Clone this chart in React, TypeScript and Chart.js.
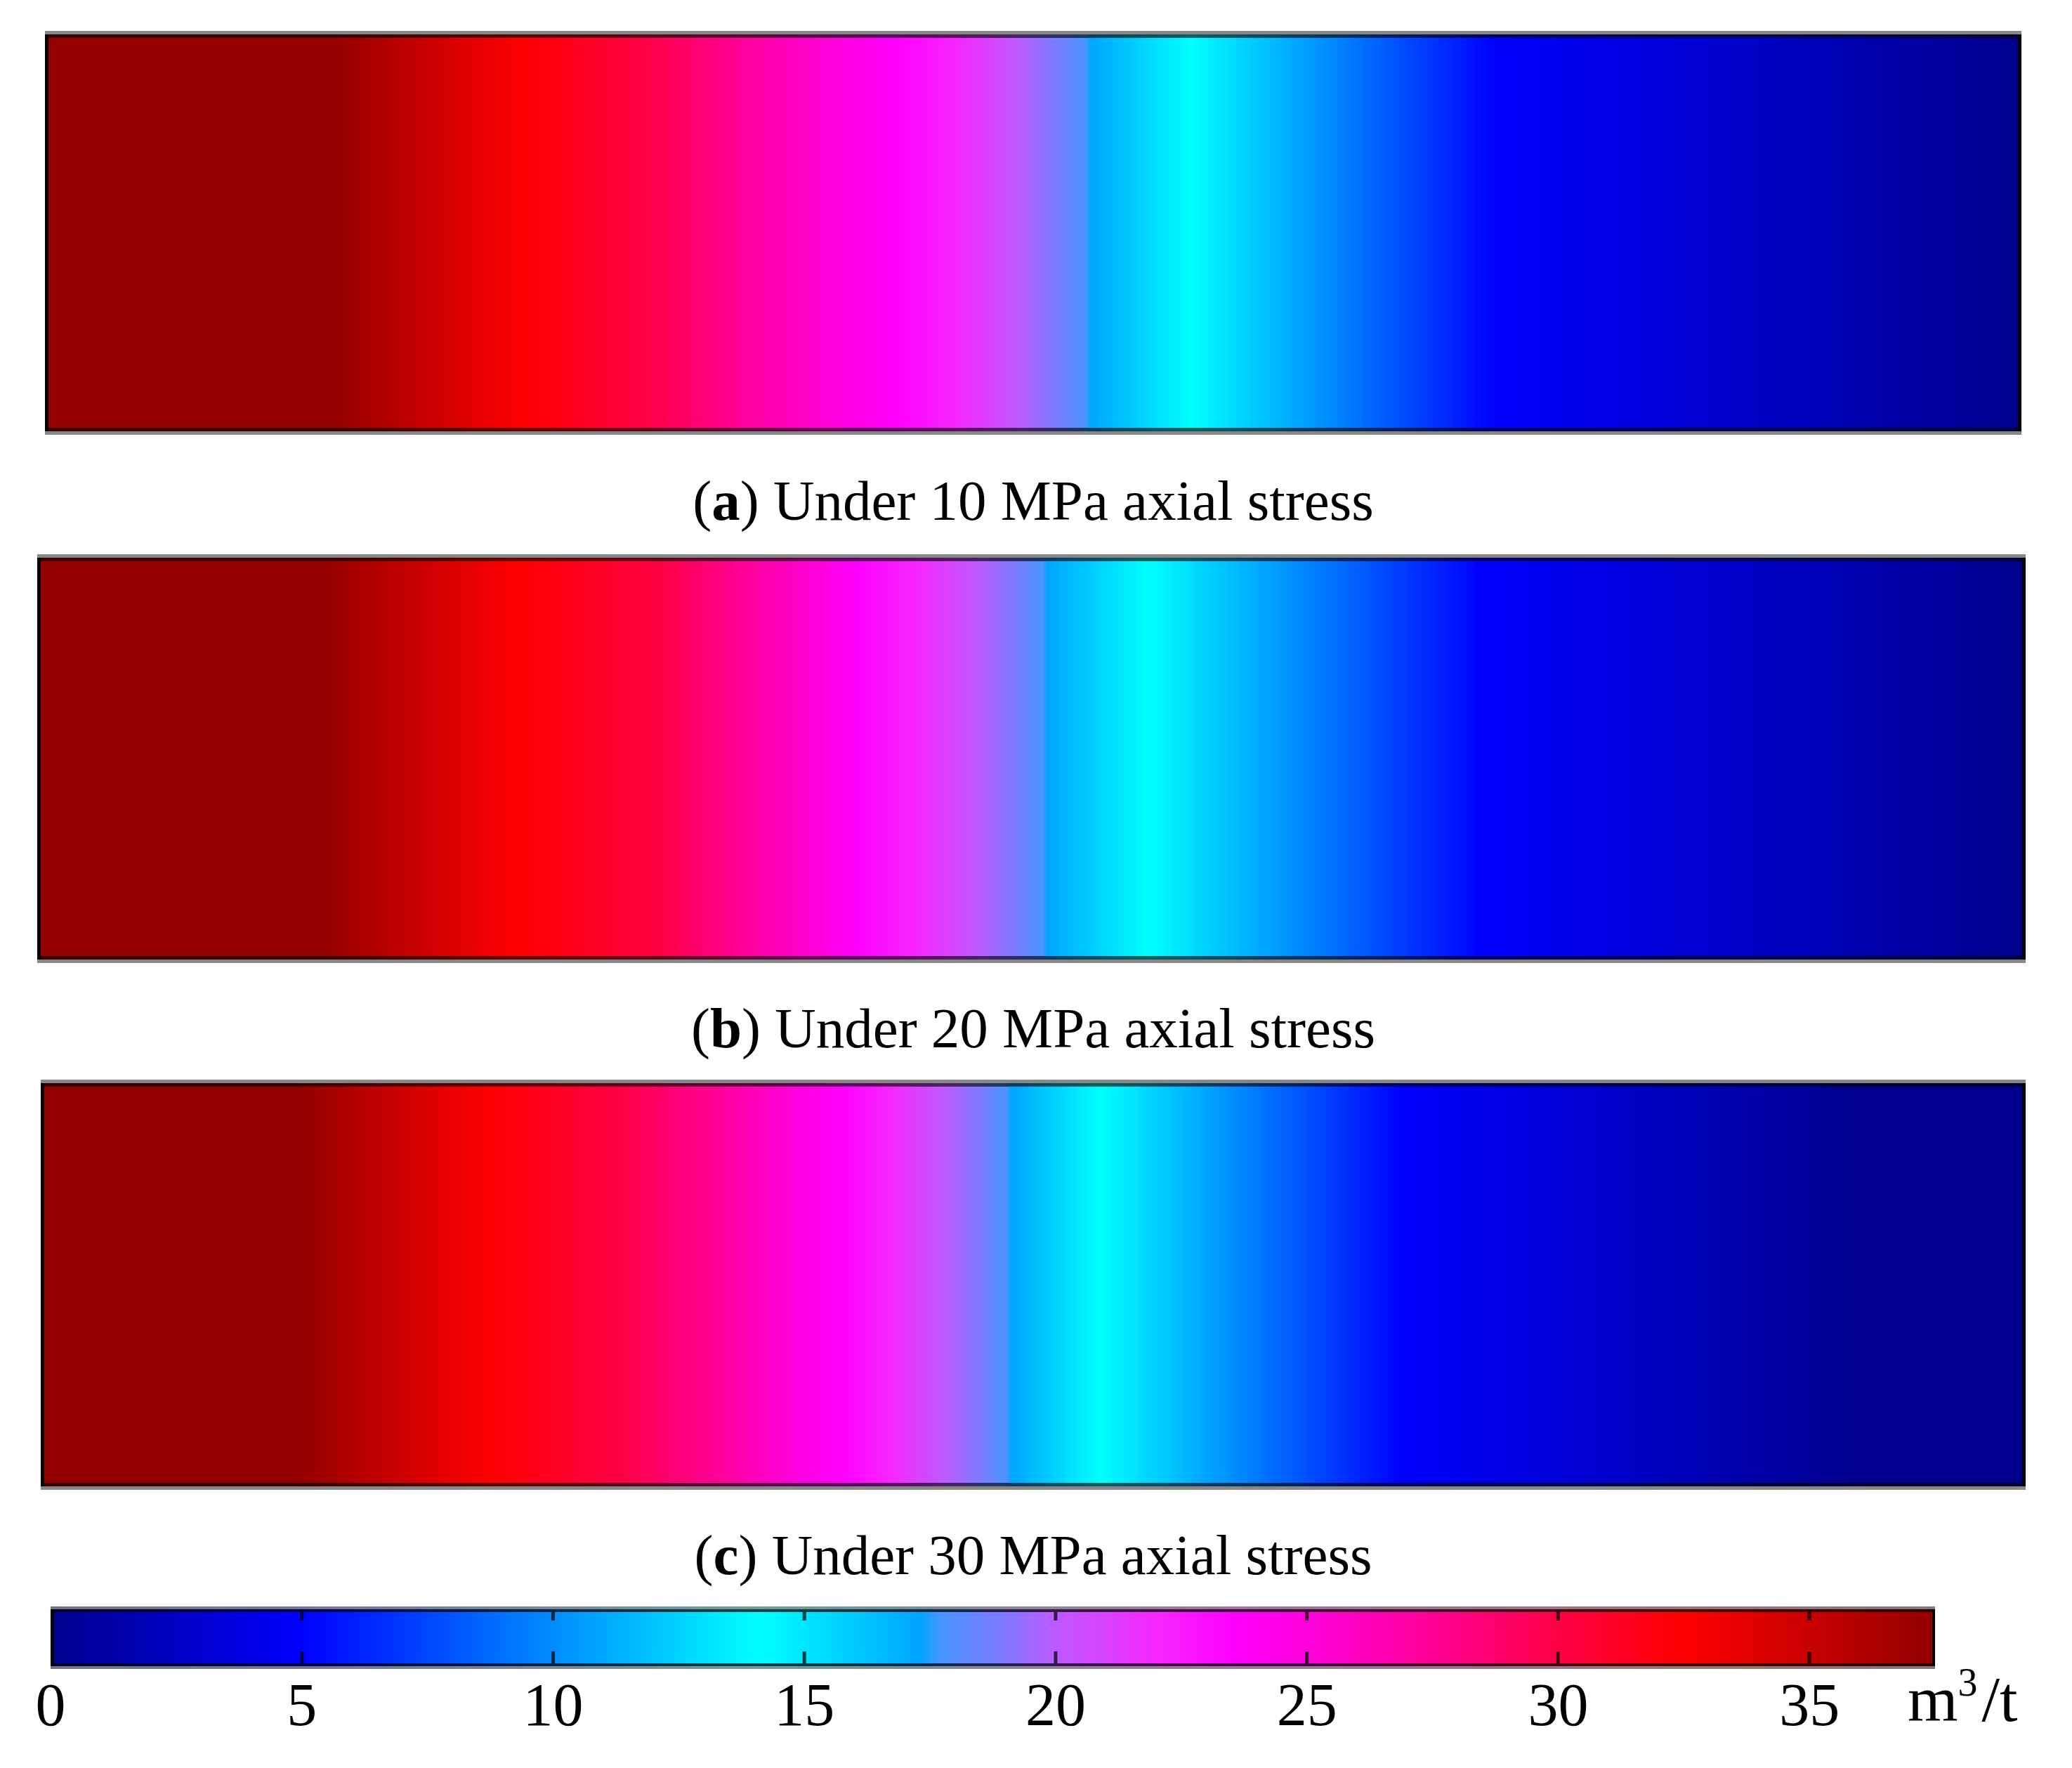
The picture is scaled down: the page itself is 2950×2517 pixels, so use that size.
import React, { useEffect, useRef } from 'react';
import { Chart, registerables } from 'chart.js';

Chart.register(...registerables);

const FONT = '"Liberation Serif", "Times New Roman", serif';

// Colour scale of the legend: gas content (m3/t) and its colour
const scaleValues = [0, 5, 14.1, 17.3, 17.7, 19, 20, 22, 23.5, 25, 27.5, 30, 32.5, 37.5];
const scaleColors = [
  '#00008c', '#0000ff', '#00ffff', '#00a5ff', '#4696ff', '#8278ff', '#be5aff',
  '#f528ff', '#ff00ff', '#ff00dc', '#ff0096', '#ff0046', '#ff0000', '#920000',
];
const tickValues = [0, 5, 10, 15, 20, 25, 30, 35];

// Gas content along the sample, position in % of the length
const positionsA = [0, 14.4, 24.1, 30.5, 35, 39.8, 43.2, 46.2, 49.2, 50.9, 52.7, 52.9, 58, 73.3, 100];
const positionsB = [0, 14.1, 24, 31.4, 35.3, 39.3, 41.3, 44.3, 47.3, 49, 50.6, 50.8, 55.8, 72.6, 100];
const positionsC = [0, 12.9, 22.6, 29.2, 33.9, 37.9, 40.5, 42.9, 45.5, 47.2, 48.7, 48.9, 53.4, 68.5, 92, 100];

const contentA = [37.5, 37.5, 32.5, 30, 27.5, 25, 23.5, 22, 20, 19, 17.7, 17.3, 14.1, 5, 0];
const contentB = [37.5, 37.5, 32.5, 30, 27.5, 25, 23.5, 22, 20, 19, 17.7, 17.3, 14.1, 5, 0];
const contentC = [37.5, 37.5, 32.5, 30, 27.5, 25, 23.5, 22, 20, 19, 17.7, 17.3, 14.1, 5, 0, 0];

const captionLetters = ['a', 'b', 'c'];
const captionTexts = ['Under 10 MPa axial stress', 'Under 20 MPa axial stress', 'Under 30 MPa axial stress'];

// Page layout of the three strips and captions
const stripBoxes = [
  { left: 64, top: 44, width: 2814, height: 575 },
  { left: 53, top: 789, width: 2831, height: 582 },
  { left: 58, top: 1537, width: 2826, height: 584 },
];
const captionCentres = [713, 1464, 2214];

const colorFor = (value: number) => scaleColors[scaleValues.indexOf(value)];

const makeGradient = (chart: Chart, positions: number[], colors: string[]) => {
  const x = chart.scales.x;
  const g = chart.ctx.createLinearGradient(x.getPixelForValue(positions[0]), 0, x.getPixelForValue(positions[positions.length - 1]), 0);
  const span = positions[positions.length - 1] - positions[0];
  positions.forEach((p, i) => g.addColorStop((p - positions[0]) / span, colors[i]));
  return g;
};

// Frame of the plot: grey outer line and a darkened one inside
const stripFrame = {
  id: 'stripFrame',
  afterDatasetsDraw(chart: Chart) {
    const { ctx, chartArea: a } = chart;
    ctx.save();
    ctx.fillStyle = 'rgba(0,0,0,0.62)';
    ctx.fillRect(a.left, a.top + 5, a.width, 5);
    ctx.fillRect(a.left, a.bottom - 10, a.width, 5);
    ctx.fillStyle = '#000';
    ctx.fillRect(a.left, a.top + 5, 5, a.height - 10);
    ctx.fillRect(a.right - 5, a.top + 5, 5, a.height - 10);
    ctx.fillStyle = '#888888';
    ctx.fillRect(a.left, a.top, a.width, 5);
    ctx.fillRect(a.left, a.bottom - 5, a.width, 5);
    ctx.restore();
  },
};

// Legend frame, inner tick marks and the unit
const legendFrame = {
  id: 'legendFrame',
  afterDatasetsDraw(chart: Chart) {
    const { ctx, chartArea: a } = chart;
    const x = chart.scales.x;
    ctx.save();
    ctx.fillStyle = 'rgba(0,0,0,0.72)';
    ctx.fillRect(a.left, a.top + 4, a.width, 4);
    ctx.fillRect(a.left, a.bottom - 8, a.width, 4);
    tickValues.forEach((v) => {
      if (v === 0) return;
      const px = x.getPixelForValue(v);
      ctx.fillRect(px - 2.5, a.top + 8, 5, 12);
      ctx.fillRect(px - 2.5, a.bottom - 25, 5, 17);
    });
    ctx.fillStyle = '#000';
    ctx.fillRect(a.left, a.top + 4, 5, a.height - 8);
    ctx.fillRect(a.right - 4, a.top + 4, 4, a.height - 8);
    ctx.fillStyle = 'rgba(136,136,136,0.85)';
    ctx.fillRect(a.left, a.top, a.width, 4);
    ctx.fillRect(a.left, a.bottom - 4, a.width, 4);

    // unit, with the 3 raised by hand
    const baseline = a.bottom + 74;
    const start = a.right - 39;
    ctx.fillStyle = '#000';
    ctx.textAlign = 'left';
    ctx.textBaseline = 'alphabetic';
    ctx.font = `92px ${FONT}`;
    ctx.fillText('m', start, baseline);
    const mWidth = ctx.measureText('m').width;
    ctx.fillText('/t', start + mWidth + 34, baseline);
    ctx.font = `56px ${FONT}`;
    ctx.fillText('3', start + mWidth, baseline - 36);
    ctx.restore();
  },
};

const makeStrip = (canvas: HTMLCanvasElement, positions: number[], content: number[]) =>
  new Chart(canvas, {
    type: 'bar',
    data: {
      labels: ['gas content'],
      datasets: [
        {
          data: [[0, 100]] as any,
          barPercentage: 1,
          categoryPercentage: 1,
          backgroundColor: (c: any) =>
            c.chart.chartArea ? makeGradient(c.chart, positions, content.map(colorFor)) : '#fff',
        },
      ],
    },
    options: {
      indexAxis: 'y',
      responsive: false,
      animation: false,
      devicePixelRatio: 1,
      layout: { padding: 0 },
      plugins: { legend: { display: false }, tooltip: { enabled: false } },
      scales: {
        x: { type: 'linear', min: 0, max: 100, display: false },
        y: { display: false },
      },
    },
    plugins: [stripFrame],
  });

const makeLegend = (canvas: HTMLCanvasElement) =>
  new Chart(canvas, {
    type: 'bar',
    data: {
      labels: ['scale'],
      datasets: [
        {
          data: [[0, 37.5]] as any,
          barPercentage: 1,
          categoryPercentage: 1,
          backgroundColor: (c: any) =>
            c.chart.chartArea ? makeGradient(c.chart, scaleValues, scaleColors) : '#fff',
        },
      ],
    },
    options: {
      indexAxis: 'y',
      responsive: false,
      animation: false,
      devicePixelRatio: 1,
      layout: { padding: { left: 72, right: 195, top: 14, bottom: 52 } },
      plugins: { legend: { display: false }, tooltip: { enabled: false } },
      scales: {
        x: {
          type: 'linear',
          min: 0,
          max: 37.5,
          border: { display: false },
          grid: { display: false },
          afterBuildTicks: (axis: any) => {
            axis.ticks = tickValues.map((value) => ({ value }));
          },
          ticks: {
            color: '#000',
            maxRotation: 0,
            autoSkip: false,
            padding: 6,
            font: { family: FONT, size: 86, lineHeight: 1 },
            callback: (v: any) => String(v),
          },
        },
        y: { display: false },
      },
    },
    plugins: [legendFrame],
  });

const App: React.FC = () => {
  const stripA = useRef<HTMLCanvasElement>(null);
  const stripB = useRef<HTMLCanvasElement>(null);
  const stripC = useRef<HTMLCanvasElement>(null);
  const legend = useRef<HTMLCanvasElement>(null);

  useEffect(() => {
    document.body.style.margin = '0';
    const charts = [
      makeStrip(stripA.current!, positionsA, contentA),
      makeStrip(stripB.current!, positionsB, contentB),
      makeStrip(stripC.current!, positionsC, contentC),
      makeLegend(legend.current!),
    ];
    return () => charts.forEach((c) => c.destroy());
  }, []);

  const refs = [stripA, stripB, stripC];

  return (
    <div style={{ position: 'absolute', left: 0, top: 0, width: 2950, height: 2517, background: '#fff', overflow: 'hidden' }}>
      {stripBoxes.map((b, i) => (
        <canvas
          key={i}
          ref={refs[i]}
          width={b.width}
          height={b.height}
          style={{ position: 'absolute', left: b.left, top: b.top, width: b.width, height: b.height }}
        />
      ))}
      {captionTexts.map((t, i) => (
        <div
          key={t}
          style={{
            position: 'absolute',
            left: 0,
            width: 2942,
            top: captionCentres[i] - 50,
            height: 100,
            lineHeight: '100px',
            textAlign: 'center',
            fontFamily: FONT,
            fontSize: 81,
            color: '#000',
            whiteSpace: 'nowrap',
          }}
        >
          (<b>{captionLetters[i]}</b>) {t}
        </div>
      ))}
      <canvas
        ref={legend}
        width={2950}
        height={244}
        style={{ position: 'absolute', left: 0, top: 2273, width: 2950, height: 244 }}
      />
    </div>
  );
};

export default App;
